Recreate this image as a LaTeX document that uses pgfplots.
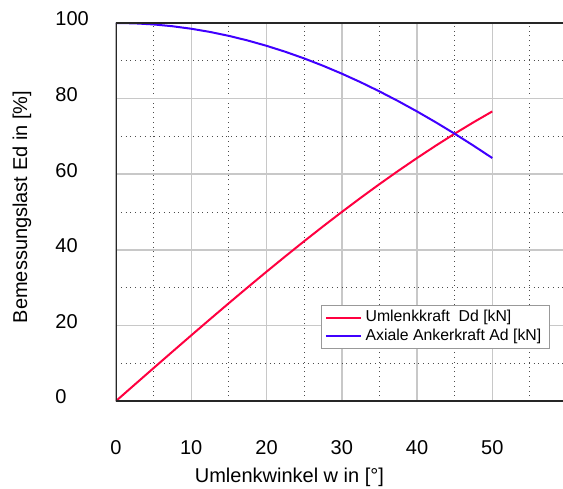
\documentclass[border=0pt]{standalone}
\usepackage{fontspec}
\setmainfont{Liberation Sans}
\usepackage{pgfplots}
\pgfplotsset{compat=1.18}
\definecolor{cred}{RGB}{255,0,64}
\definecolor{cblue}{RGB}{64,0,255}
\definecolor{gridgray}{RGB}{200,200,200}
\begin{document}
\begin{tikzpicture}
\begin{axis}[
  scale only axis,
  width=223.5pt, height=189pt,
  xmin=0, xmax=59.4, ymin=0, ymax=100,
  xtick={0,10,20,30,40,50},
  ytick={0,20,40,60,80,100},
  minor xtick={5,15,25,35,45,55},
  minor ytick={10,30,50,70,90},
  major tick length=0pt, minor tick length=0pt,
  grid=both,
  major grid style={gridgray, line width=0.75pt},
  minor grid style={black!70, dotted, line width=0.5pt},
  axis line style={draw=none},
  /pgf/number format/assume math mode=true,
  tick label style={font=\fontsize{10}{12}\selectfont},
  xticklabel style={anchor=center, yshift=-23.5pt},
  yticklabel style={anchor=west, inner sep=0pt, xshift=-30.5pt, yshift=2pt},
  xlabel={Umlenkwinkel w in [°]},
  ylabel={Bemessungslast Ed in [\%]},
  every axis x label/.style={at={(rel axis cs:0.388,0)}, anchor=center, yshift=-38pt, font=\fontsize{10}{12}\selectfont},
  every axis y label/.style={at={(rel axis cs:0,0.5)}, xshift=-47pt, yshift=2.5pt, rotate=90, anchor=center, font=\fontsize{10}{12}\selectfont},
  legend style={at={(rel axis cs:1,0)}, anchor=south east, xshift=-6.5pt, yshift=26pt,
    draw=gray!80, line width=0.75pt, font=\fontsize{7.9}{9}\selectfont,
    inner xsep=2pt, inner ysep=0.5pt, row sep=-2pt},
  legend cell align=left,
  legend image post style={line width=1pt},
]
\addplot[cred, line width=1pt] coordinates {
(0,0) (2.5,4.362) (5,8.716) (7.5,13.053) (10,17.365) (12.5,21.644) (15,25.882)
(17.5,30.071) (20,34.202) (22.5,38.268) (25,42.262) (27.5,46.175) (30,50.000)
(32.5,53.730) (35,57.358) (37.5,60.876) (40,64.279) (42.5,67.559) (45,70.711)
(47.5,73.728) (50,76.604)};
\addlegendentry{Umlenkkraft\ \ Dd [kN]}
\addplot[cblue, line width=1pt] coordinates {
(0,100) (2.5,99.905) (5,99.619) (7.5,99.144) (10,98.481) (12.5,97.630) (15,96.593)
(17.5,95.372) (20,93.969) (22.5,92.388) (25,90.631) (27.5,88.701) (30,86.603)
(32.5,84.339) (35,81.915) (37.5,79.335) (40,76.604) (42.5,73.728) (45,70.711)
(47.5,67.559) (50,64.279)};
\addlegendentry{Axiale Ankerkraft Ad [kN]}
\draw[black!85, line width=1pt] (rel axis cs:1,1) -- (rel axis cs:0,1) -- (rel axis cs:0,0) -- (rel axis cs:1,0);
\coordinate (bl) at (rel axis cs:0,0);
\coordinate (tr) at (rel axis cs:1,1);
\end{axis}
\pgfresetboundingbox
\path[use as bounding box] ([shift={(-58pt,-43.5pt)}]bl) rectangle ([shift={(0pt,11.5pt)}]tr);
\end{tikzpicture}
\end{document}
